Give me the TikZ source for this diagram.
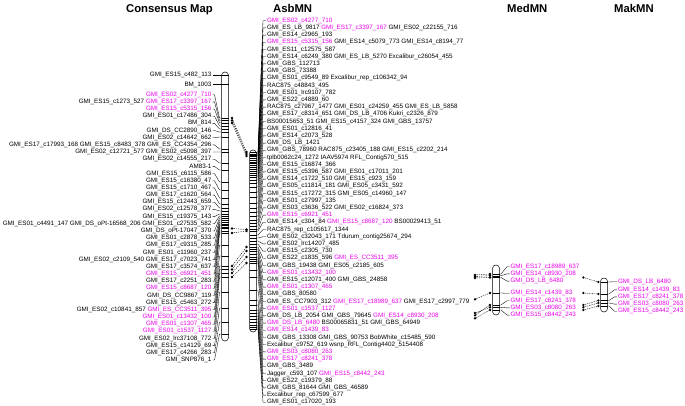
\documentclass[tikz,border=0pt]{standalone}
\usepackage{fontspec}
\setmainfont{Liberation Sans}
\definecolor{mgc}{RGB}{235,0,235}
\newcommand\mg[1]{\textcolor{mgc}{#1}}
\tikzset{
 lab/.style={font=\fontsize{6.3}{7}\selectfont, inner sep=0pt, outer sep=0pt},
 hdr/.style={font=\fontsize{11.3}{13}\selectfont\bfseries, inner sep=0pt},
 conn/.style={line width=0.35pt},
 chrom/.style={line width=0.5pt, fill=white, rounded corners=3.4pt},
 band/.style={line width=0.35pt},
 hdot/.style={circle, fill=black, inner sep=0pt, minimum size=2.6pt},
 hlink/.style={line width=0.4pt, dash pattern=on 1.3pt off 1pt},
}
\begin{document}
\begin{tikzpicture}[x=1pt,y=-1pt]
\useasboundingbox (0,0) rectangle (685,406);
% headers
\node[hdr, anchor=base east] (hC) at (213,13) {Consensus Map};
\node[hdr, anchor=base west] (hA) at (273,13) {AsbMN};
\node[hdr, anchor=base west] (hMe) at (507,13) {MedMN};
\node[hdr, anchor=base west] (hMa) at (614,13) {MakMN};

% ---------------- Consensus map ----------------
\draw[chrom] (221.5,72) rectangle (228.5,341);
\node[lab, anchor=east] (Ca) at (211.5,75) {GMI\_ES15\_c482\_113};
\node[lab, anchor=east] (Cb) at (211.5,84.5) {BM\_1003};
\coordinate (Cpa) at (221.5,75);
\coordinate (Cpb) at (221.5,84.5);
\draw[conn] ([xshift=1pt]Ca.east) -- (Cpa);
\draw[conn] ([xshift=1pt]Cb.east) -- (Cpb);
\draw[band] (Cpa) -- ++(7,0);
\draw[band] (Cpb) -- ++(7,0);
\foreach \i/\p/\t in {
 0/118/{\mg{GMI\_ES02\_c4277\_710}},
 1/120.5/{GMI\_ES15\_c1273\_527 \mg{GMI\_ES17\_c3397\_167}},
 2/123/{\mg{GMI\_ES15\_c5315\_156}},
 3/126/{GMI\_ES01\_c17486\_304},
 4/129/{BM\_814},
 5/132/{GMI\_DS\_CC2890\_146},
 6/137/{GMI\_ES02\_c14642\_662},
 7/149/{GMI\_ES17\_c17993\_168 GMI\_ES15\_c8483\_378 GMI\_ES\_CC4354\_296},
 8/152/{GMI\_ES02\_c12721\_577 GMI\_ES02\_c5098\_397},
 9/163/{GMI\_ES02\_c14555\_217},
 10/170/{AM83-1},
 11/182/{GMI\_ES15\_c6115\_586},
 12/190/{GMI\_ES15\_c16380\_47},
 13/198/{GMI\_ES15\_c1710\_467},
 14/204/{GMI\_ES17\_c1620\_564},
 15/208/{GMI\_ES15\_c12443\_659},
 16/211/{GMI\_ES02\_c12578\_377},
 17/214/{GMI\_ES15\_c19375\_143},
 18/216/{GMI\_ES01\_c4491\_147 GMI\_DS\_oPt-16568\_206 GMI\_ES01\_c27535\_582},
 19/218/{GMI\_DS\_oPt-17047\_370},
 20/220/{GMI\_ES01\_c2878\_533},
 21/222/{GMI\_ES17\_c9315\_285},
 22/224/{GMI\_ES01\_c11960\_237},
 23/225.5/{GMI\_ES02\_c2109\_540 GMI\_ES17\_c7023\_741},
 24/227/{GMI\_ES17\_c3574\_637},
 25/228.5/{\mg{GMI\_ES15\_c6921\_451}},
 26/231/{GMI\_ES17\_c2251\_283},
 27/233/{\mg{GMI\_ES15\_c8687\_120}},
 28/245/{GMI\_DS\_CC9867\_119},
 29/256/{GMI\_ES15\_c5463\_272},
 30/266/{GMI\_ES02\_c10841\_857 \mg{GMI\_ES\_CC3511\_395}},
 31/269.5/{\mg{GMI\_ES01\_c13432\_100}},
 32/273/{\mg{GMI\_ES01\_c1307\_465}},
 33/277/{\mg{GMI\_ES01\_c1537\_1127}},
 34/292/{GMI\_ES02\_lrc37108\_772},
 35/308/{GMI\_ES15\_c14129\_69},
 36/322/{GMI\_ES17\_c4266\_283},
 37/334/{GMI\_SNP876\_1}}{
 \pgfmathsetmacro\yy{94.7+7.17*\i}
 \node[lab, anchor=east] (C\i) at (211.5,\yy) {\t};
 \coordinate (Cp\i) at (221.5,\p);
 \draw[conn] ([xshift=1pt]C\i.east) -- ++(2,0) -- ([xshift=-2pt]Cp\i) -- (Cp\i);
 \draw[band] (Cp\i) -- ++(7,0);
}

% ---------------- AsbMN ----------------
\draw[chrom] (249.5,150) rectangle (256.5,332);
\foreach \r/\p/\t in {
 1/152/{\mg{GMI\_ES02\_c4277\_710}},
 2/154/{GMI\_ES\_LB\_9817 \mg{GMI\_ES17\_c3397\_167} GMI\_ES02\_c22155\_716},
 3/155/{GMI\_ES14\_c2965\_193},
 4/156/{\mg{GMI\_ES15\_c5315\_156} GMI\_ES14\_c5079\_773 GMI\_ES14\_c8194\_77},
 5/158/{GMI\_ES11\_c12575\_587},
 6/160/{GMI\_ES14\_c6249\_380 GMI\_ES\_LB\_5270 Excalibur\_c26054\_455},
 7/162/{GMI\_GBS\_112713},
 8/163/{GMI\_GBS\_73388},
 9/165/{GMI\_ES01\_c9549\_89 Excalibur\_rep\_c106342\_94},
 10/167/{RAC875\_c48843\_495},
 11/169/{GMI\_ES01\_lrc9107\_782},
 12/171/{GMI\_ES22\_c4889\_60},
 13/173/{RAC875\_c27967\_1477 GMI\_ES01\_c24259\_455 GMI\_ES\_LB\_5858},
 14/175/{GMI\_ES17\_c8314\_651 GMI\_DS\_LB\_4706 Kukri\_c2326\_879},
 15/177/{BS00015653\_51 GMI\_ES15\_c4157\_324 GMI\_GBS\_13757},
 16/180/{GMI\_ES01\_c12816\_41},
 17/183/{GMI\_ES14\_c2073\_528},
 18/187/{GMI\_DS\_LB\_1421},
 19/192/{GMI\_GBS\_78960 RAC875\_c23405\_188 GMI\_ES15\_c2202\_214},
 20/197/{tplb0062c24\_1272 IAAV5974 RFL\_Contig570\_515},
 21/203/{GMI\_ES15\_c16874\_366},
 22/208/{GMI\_ES15\_c5396\_587 GMI\_ES01\_c17011\_201},
 23/212/{GMI\_ES14\_c1722\_510 GMI\_ES15\_c923\_159},
 24/216/{GMI\_ES05\_c11814\_181 GMI\_ES05\_c3431\_592},
 25/220/{GMI\_ES15\_c17272\_315 GMI\_ES05\_c14960\_147},
 26/223/{GMI\_ES01\_c27997\_135},
 27/226/{GMI\_ES03\_c3636\_522 GMI\_ES02\_c16824\_373},
 28/229.5/{\mg{GMI\_ES15\_c6921\_451}},
 29/231/{GMI\_ES14\_c304\_84 \mg{GMI\_ES15\_c8687\_120} BS00029413\_51},
 30/235/{RAC875\_rep\_c105617\_1344},
 31/238/{GMI\_ES02\_c32043\_171 Tdurum\_contig25674\_294},
 32/241/{GMI\_ES02\_lrc14207\_485},
 33/244/{GMI\_ES15\_c2305\_730},
 34/247/{GMI\_ES22\_c1835\_596 \mg{GMI\_ES\_CC3511\_395}},
 35/249/{GMI\_GBS\_19438 GMI\_ES05\_c2185\_605},
 36/251/{\mg{GMI\_ES01\_c13432\_100}},
 37/254/{GMI\_ES15\_c12071\_400 GMI\_GBS\_24858},
 38/257/{\mg{GMI\_ES01\_c1307\_465}},
 39/259/{GMI\_GBS\_80580},
 40/261/{GMI\_ES\_CC7903\_312 \mg{GMI\_ES17\_c18989\_637} GMI\_ES17\_c2997\_779},
 41/263/{\mg{GMI\_ES01\_c1537\_1127}},
 42/270/{GMI\_DS\_LB\_2054 GMI\_GBS\_79645 \mg{GMI\_ES14\_c8930\_208}},
 43/277/{\mg{GMI\_DS\_LB\_6480} BS00065831\_51 GMI\_GBS\_64949},
 44/290/{\mg{GMI\_ES14\_c1439\_83}},
 45/300/{GMI\_GBS\_13308 GMI\_GBS\_90753 BobWhite\_c15485\_590},
 46/305/{Excalibur\_c9752\_619 wsnp\_RFL\_Contig4402\_5154408},
 47/310/{\mg{GMI\_ES03\_c8080\_263}},
 48/313/{\mg{GMI\_ES17\_c8241\_378}},
 49/316/{GMI\_GBS\_3489},
 50/319/{Jagger\_c593\_107 \mg{GMI\_ES15\_c8442\_243}},
 51/322/{GMI\_ES22\_c19379\_88},
 52/325/{GMI\_GBS\_81644 GMI\_GBS\_46589},
 53/327/{Excalibur\_rep\_c67599\_677},
 54/329/{GMI\_ES01\_c17020\_193}}{
 \pgfmathsetmacro\yy{20.7+7.2*(\r-1)}
 \node[lab, anchor=west] (A\r) at (267,\yy) {\t};
 \coordinate (Ap\r) at (256.5,\p);
 \draw[conn] (Ap\r) -- ++(1.5,0) -- (263,\yy) -- ([xshift=-1pt]A\r.west);
 \draw[band] (Ap\r) -- ++(-7,0);
}

% consensus <-> AsbMN links
\foreach \k/\ya/\yb in {1/118/152, 2/120.5/154, 3/123/156, 4/228.5/229.5, 5/233/231,
  6/266/247, 7/269.5/251, 8/273/257, 9/277/263}{
 \node[hdot] (ka\k) at (232,\ya) {};
 \node[hdot] (kb\k) at (246.5,\yb) {};
 \draw[hlink] (ka\k) -- (kb\k);
}

% ---------------- MedMN ----------------
\draw[chrom] (492.5,265) rectangle (499.5,315);
\foreach \m/\y/\p/\t in {
 1/266.7/274/{GMI\_ES17\_c18989\_637},
 2/273.9/275.7/{GMI\_ES14\_c8930\_208},
 3/281.1/277.5/{GMI\_DS\_LB\_6480},
 4/293.3/293/{GMI\_ES14\_c1439\_83},
 5/300.7/305/{GMI\_ES17\_c8241\_378},
 6/307.9/307.3/{GMI\_ES03\_c8080\_263},
 7/315.1/310/{GMI\_ES15\_c8442\_243}}{
 \node[lab, anchor=west, text=mgc] (M\m) at (510.5,\y) {\t};
 \coordinate (Mp\m) at (499.5,\p);
 \draw[conn] (Mp\m) -- ++(1.5,0) -- (507,\y) -- ([xshift=-1pt]M\m.west);
 \draw[band] (Mp\m) -- ++(-7,0);
}
% AsbMN <-> MedMN links
\foreach \k/\ya/\yb in {1/275/274, 2/276.5/275.7, 3/278/277.5, 4/299.3/293,
  5/313/307.3, 6/315.3/305, 7/318.3/310}{
 \node[hdot] (ma\k) at (475,\ya) {};
 \node[hdot] (mb\k) at (490,\yb) {};
 \draw[hlink] (ma\k) -- (mb\k);
}

% ---------------- MakMN ----------------
\draw[chrom] (600.5,278) rectangle (607.5,312);
\foreach \m/\y/\p/\t in {
 1/281.7/282/{GMI\_DS\_LB\_6480},
 2/289.9/294/{GMI\_ES14\_c1439\_83},
 3/296.9/300.5/{GMI\_ES17\_c8241\_378},
 4/304.1/303/{GMI\_ES03\_c8080\_263},
 5/311.2/306/{GMI\_ES15\_c8442\_243}}{
 \node[lab, anchor=west, text=mgc] (K\m) at (618,\y) {\t};
 \coordinate (Kp\m) at (607.5,\p);
 \draw[conn] (Kp\m) -- ++(1.5,0) -- (614.5,\y) -- ([xshift=-1pt]K\m.west);
 \draw[band] (Kp\m) -- ++(-7,0);
}
% MedMN <-> MakMN links
\foreach \k/\ya/\yb in {1/277.5/282, 2/293/294, 3/305/300.5, 4/307.3/303, 5/310/306}{
 \node[hdot] (na\k) at (583.3,\ya) {};
 \node[hdot] (nb\k) at (598.3,\yb) {};
 \draw[hlink] (na\k) -- (nb\k);
}
\end{tikzpicture}
\end{document}
